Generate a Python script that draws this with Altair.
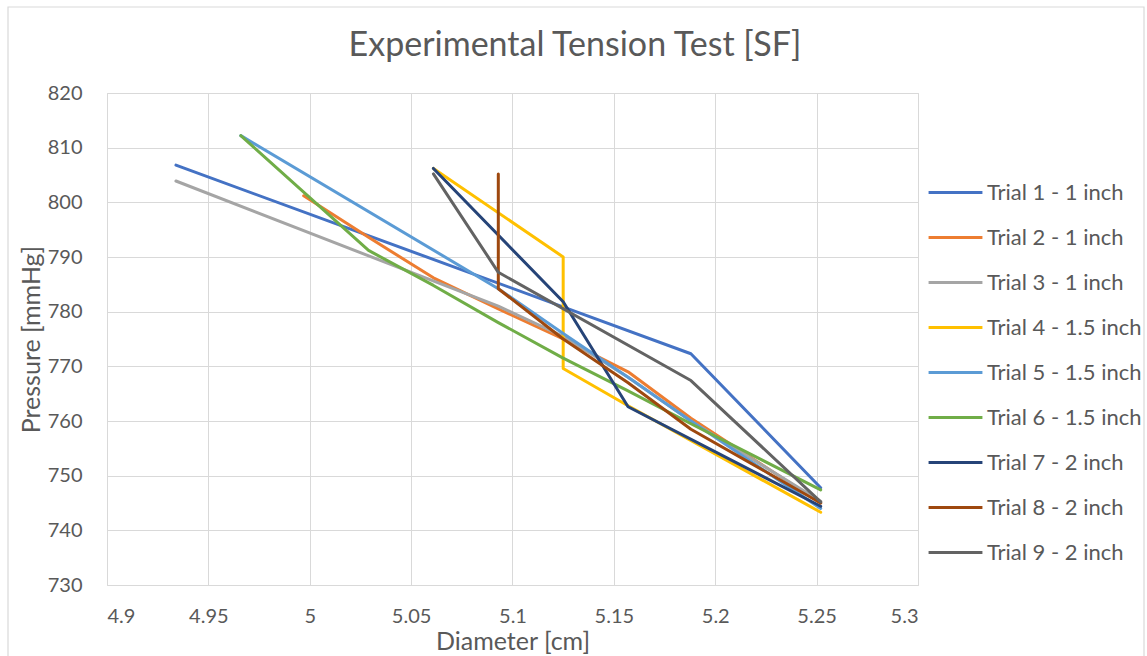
import altair as alt
import pandas as pd

series_names = [
    "Trial 1 - 1 inch", "Trial 2 - 1 inch", "Trial 3 - 1 inch",
    "Trial 4 - 1.5 inch", "Trial 5 - 1.5 inch", "Trial 6 - 1.5 inch",
    "Trial 7 - 2 inch", "Trial 8 - 2 inch", "Trial 9 - 2 inch",
]
colors = ["#4472C4", "#ED7D31", "#A5A5A5", "#FFC000", "#5B9BD5",
          "#70AD47", "#264478", "#9E480E", "#636363"]

t1_x = [4.934, 5.188, 5.252]
t1_y = [806.8, 772.3, 747.8]
t2_x = [4.997, 5.029, 5.061, 5.093, 5.125, 5.157, 5.188, 5.252]
t2_y = [801.2, 793.6, 786.2, 780.5, 775.0, 769.0, 760.5, 745.0]
t3_x = [4.934, 5.093, 5.125, 5.157, 5.188, 5.252]
t3_y = [803.9, 781.0, 775.5, 768.0, 760.0, 745.3]
t4_x = [5.061, 5.125, 5.125, 5.157, 5.252]
t4_y = [806.2, 790.0, 769.6, 762.8, 743.3]
t5_x = [4.966, 5.093, 5.125, 5.157, 5.188, 5.252]
t5_y = [812.2, 784.2, 776.0, 768.0, 760.0, 744.0]
t6_x = [4.966, 5.029, 5.061, 5.093, 5.125, 5.157, 5.188, 5.252]
t6_y = [812.2, 791.2, 784.8, 778.0, 771.5, 765.5, 759.5, 747.4]
t7_x = [5.061, 5.125, 5.157, 5.252]
t7_y = [806.2, 781.8, 762.6, 744.4]
t8_x = [5.093, 5.093, 5.125, 5.157, 5.188, 5.252]
t8_y = [805.2, 784.2, 775.0, 767.0, 758.5, 745.0]
t9_x = [5.061, 5.093, 5.188, 5.252]
t9_y = [805.2, 787.2, 767.4, 745.2]

xs = [t1_x, t2_x, t3_x, t4_x, t5_x, t6_x, t7_x, t8_x, t9_x]
ys = [t1_y, t2_y, t3_y, t4_y, t5_y, t6_y, t7_y, t8_y, t9_y]

x_ticks = [4.9, 4.95, 5.0, 5.05, 5.1, 5.15, 5.2, 5.25, 5.3]
y_ticks = [730, 740, 750, 760, 770, 780, 790, 800, 810, 820]
title_text = "Experimental Tension Test [SF]"

rows = []
for name, sx, sy in zip(series_names, xs, ys):
    for i, (a, b) in enumerate(zip(sx, sy)):
        rows.append({"series": name, "diameter": a, "pressure": b, "idx": i})
df = pd.DataFrame(rows)

FONT = "Lato"
TXT = "#595959"

lines = alt.Chart(df).mark_line(strokeWidth=3, strokeCap="round", strokeJoin="round").encode(
    x=alt.X("diameter:Q", title="Diameter [cm]",
            scale=alt.Scale(domain=[4.9, 5.3], nice=False, zero=False),
            axis=alt.Axis(values=x_ticks, format=".2~f")),
    y=alt.Y("pressure:Q", title="Pressure [mmHg]",
            scale=alt.Scale(domain=[730, 820], nice=False, zero=False),
            axis=alt.Axis(values=y_ticks)),
    color=alt.Color("series:N", sort=series_names,
                    scale=alt.Scale(domain=series_names, range=colors),
                    legend=alt.Legend(title=None)),
    order=alt.Order("idx:Q"),
    detail="series:N",
)

one = pd.DataFrame({"a": [0]})
border = alt.Chart(one).mark_rect(
    fill=None, stroke="#d9d9d9", strokeWidth=1.2
).encode(x=alt.value(-99), x2=alt.value(1037), y=alt.value(-86), y2=alt.value(580))

title = alt.Chart(one).mark_text(
    text=title_text, font=FONT, fontSize=34, color=TXT, align="center", baseline="alphabetic"
).encode(x=alt.value(468), y=alt.value(-37))

chart = alt.layer(border, title, lines).properties(
    width=811, height=492,
    autosize=alt.AutoSizeParams(type="none"),
    padding={"left": 107, "top": 93, "right": 229, "bottom": 71},
    background="white",
).configure_view(stroke="#d9d9d9", strokeWidth=1).configure_axis(
    grid=True, gridColor="#d9d9d9", gridWidth=1, domain=False, ticks=False,
    labelFont=FONT, labelFontSize=20, labelColor=TXT,
    titleFont=FONT, titleFontSize=25, titleColor=TXT, titleFontWeight="normal",
).configure_axisX(titlePadding=3, labelPadding=21).configure_axisY(
    titlePadding=3, labelPadding=25
).configure_legend(
    orient="none", legendX=820, legendY=71,
    symbolType="stroke", symbolStrokeWidth=3, symbolSize=2900,
    labelFont=FONT, labelFontSize=22, labelColor=TXT, labelOffset=3,
    rowPadding=5, labelLimit=300,
)

chart.save("out.html", embed_options={"renderer": "svg", "actions": False})
